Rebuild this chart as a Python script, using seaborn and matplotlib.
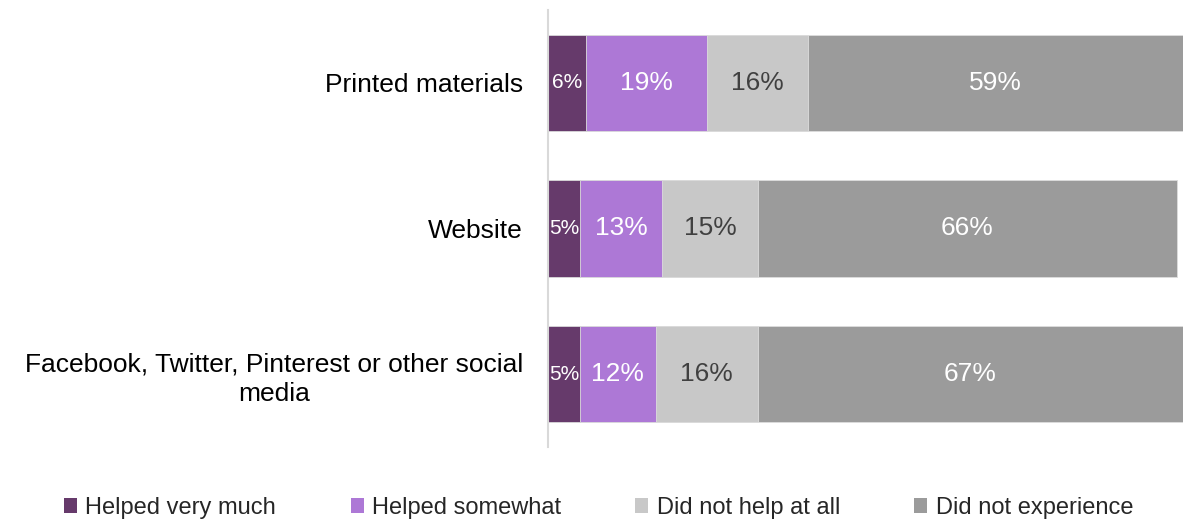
import matplotlib
matplotlib.use("Agg")
import matplotlib.pyplot as plt
import seaborn as sns
import numpy as np
import pandas as pd
from matplotlib.patches import Patch

categories = ["Printed materials", "Website",
              "Facebook, Twitter, Pinterest or other social\nmedia"]
series = ["Helped very much", "Helped somewhat", "Did not help at all", "Did not experience"]
helped_very_much = [6, 5, 5]
helped_somewhat = [19, 13, 12]
did_not_help = [16, 15, 16]
did_not_experience = [59, 66, 67]

colors = ["#663A6B", "#AD78D6", "#C8C8C8", "#9B9B9B"]
label_colors = ["white", "white", "#404040", "white"]
label_sizes = [15, 19, 19, 19]

sns.set_theme(style="white")
plt.rcParams["font.family"] = ["Liberation Sans", "DejaVu Sans"]

values = [helped_very_much, helped_somewhat, did_not_help, did_not_experience]
cums = np.cumsum(np.array(values), axis=0)

fig = plt.figure(figsize=(11.83, 5.22), dpi=100)
ax = fig.add_axes([0.4632, 0.1437, 0.5368, 0.8373])

for i in range(len(series) - 1, -1, -1):
    df = pd.DataFrame({"cat": categories, "val": cums[i]})
    sns.barplot(data=df, y="cat", x="val", orient="h", color=colors[i],
                width=0.66, ax=ax, saturation=1, edgecolor="#DDDDDD", linewidth=0.6)

for i in range(len(series)):
    for j in range(len(categories)):
        xc = cums[i][j] - values[i][j] / 2
        ax.text(xc, j, f"{values[i][j]}%", ha="center", va="center",
                color=label_colors[i], fontsize=label_sizes[i])

ax.set_xlim(0, 100)
ax.set_ylim(2.5, -0.5)
ax.set_xlabel("")
ax.set_ylabel("")
ax.set_xticks([])
for s in ["top", "right", "bottom"]:
    ax.spines[s].set_visible(False)
ax.spines["left"].set_color("#D9D9D9")
ax.spines["left"].set_linewidth(1.5)
ax.tick_params(axis="y", length=0, pad=18, labelsize=19, labelcolor="black")
for lbl in ax.get_yticklabels():
    lbl.set_multialignment("center")
    lbl.set_linespacing(1.3)

handles = [Patch(facecolor=c, edgecolor="none") for c in colors]
fig.legend(handles, series, loc="center", bbox_to_anchor=(0.506, 0.027), ncol=4,
           frameon=False, fontsize=17, handlelength=0.55, handleheight=0.55,
           handletextpad=0.35, columnspacing=3.15)

fig.savefig("out.png", dpi=100)
